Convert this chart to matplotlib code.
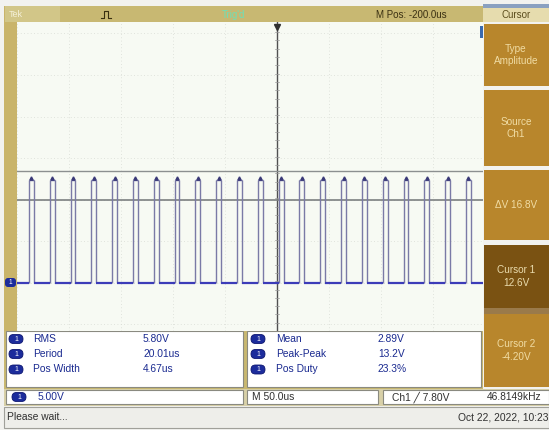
import matplotlib
matplotlib.use("Agg")
import matplotlib.pyplot as plt
from matplotlib.patches import Rectangle, FancyBboxPatch
import numpy as np

plt.rcParams['font.family'] = ['Liberation Sans Narrow', 'Liberation Sans', 'DejaVu Sans']

# ---------------- data ----------------
period_us = 20.01          # Period measurement
pos_width_us = 4.67        # Pos Width measurement
first_rise_us = -238.5     # first rising edge relative to screen centre
n_pulses = 22
low_level_v = 0.0
high_level_v = 12.4
time_per_div_us = 50.0
volts_per_div = 5.0
cursor_line_levels_v = [13.4, 9.9]

meas_left_names = ["RMS", "Period", "Pos Width"]
meas_left_values = ["5.80V", "20.01us", "4.67us"]
meas_right_names = ["Mean", "Peak-Peak", "Pos Duty"]
meas_right_values = ["2.89V", "13.2V", "23.3%"]
menu_labels = ["Type\nAmplitude", "Source\nCh1", "\u0394V 16.8V", "Cursor 1\n12.6V", "Cursor 2\n-4.20V"]
status_texts = ["5.00V", "M 50.0us", "Ch1 \u2571 7.80V", "46.8149kHz"]

W, H = 549, 430
fig = plt.figure(figsize=(W / 100, H / 100), dpi=100)
fig.patch.set_facecolor('#f2f2ef')

ui = fig.add_axes([0, 0, 1, 1], zorder=0)
ui.set_xlim(0, W)
ui.set_ylim(H, 0)
ui.axis('off')

def rect(ax, x0, y0, x1, y1, fc, ec='none', lw=0, z=1):
    ax.add_patch(Rectangle((x0, y0), x1 - x0, y1 - y0, facecolor=fc, edgecolor=ec, linewidth=lw, zorder=z))

khaki = '#c8b872'
# top bar and left border
rect(ui, 5, 6, 483, 22, khaki)
rect(ui, 4, 6, 17, 331, '#c9b46a')
rect(ui, 5, 6, 60, 22, '#d2c688')
ui.text(9, 14.5, "Tek", color='#f4f0d8', fontsize=6.5, va='center', ha='left')
ui.plot([101, 104, 104, 108, 108, 111], [18, 18, 11, 11, 18, 18], color='#3a3010', lw=0.8)
ui.text(222, 14.5, "Trig'd", color='#6ee0b8', fontsize=7, va='center', ha='left')
ui.text(376, 14.5, "M Pos: -200.0us", color='#3a3012', fontsize=7, va='center', ha='left')

# right menu
rect(ui, 483, 4, 549, 8, '#8aa0c0')
rect(ui, 483, 8, 549, 22, '#e6dcae')
ui.text(516, 15, "Cursor", color='#5a4c1c', fontsize=7, ha='center', va='center')
menu_boxes = [(24, 86), (90, 166), (170, 240), (245, 308), (314, 387)]
for i, ((y0, y1), lab) in enumerate(zip(menu_boxes, menu_labels)):
    selected = (i == 3)
    fc = '#7a5212' if selected else '#b8862c'
    rect(ui, 484, y0, 549, y1, fc, z=2)
    tc = '#eadcae' if selected else '#f0dca4'
    ui.text(516, (y0 + y1) / 2, lab, color=tc, fontsize=7.2, ha='center', va='center',
            linespacing=1.3, zorder=3)
rect(ui, 484, 308, 549, 314, '#9a7a4a', z=2)

# measurement panels
rect(ui, 4, 331, 483, 389, '#c9b870')
rect(ui, 6, 331, 243, 387, 'white', '#8a8a80', 0.8, z=2)
rect(ui, 247, 331, 481, 387, 'white', '#8a8a80', 0.8, z=2)
row_y = [339, 354, 369.5]

def badge(x, y):
    ui.add_patch(FancyBboxPatch((x, y - 4.5), 14, 9, boxstyle="round,pad=0,rounding_size=4.5",
                                facecolor='#1c2c9c', edgecolor='#0c1670', lw=0.6, zorder=4))
    ui.text(x + 7, y + 0.3, "1", color='white', fontsize=5, ha='center', va='center', zorder=5)

fs = 7.4
for y, n, v in zip(row_y, meas_left_names, meas_left_values):
    badge(9, y)
    ui.text(33, y, n, color='#1a2a90', fontsize=fs, va='center', zorder=5)
    ui.text(143, y, v, color='#1a2a90', fontsize=fs, va='center', zorder=5)
for y, n, v in zip(row_y, meas_right_names, meas_right_values):
    badge(251, y)
    ui.text(276, y, n, color='#1a2a90', fontsize=fs, va='center', zorder=5)
    ui.text(378, y, v, color='#1a2a90', fontsize=fs, va='center', zorder=5)

# status row
rect(ui, 4, 389, 549, 406, '#d8d0a8')
rect(ui, 6, 390, 243, 404, 'white', '#8a8a80', 0.8, z=2)
rect(ui, 247, 390, 378, 404, 'white', '#8a8a80', 0.8, z=2)
rect(ui, 383, 390, 549, 404, 'white', '#8a8a80', 0.8, z=2)
badge(12, 397)
ui.text(38, 397, status_texts[0], color='#1a2a90', fontsize=fs, va='center', zorder=5)
ui.text(252, 397, status_texts[1], color='#303030', fontsize=fs, va='center', zorder=5)
ui.text(392, 397, status_texts[2], color='#303030', fontsize=fs, va='center', zorder=5)
ui.text(487, 397, status_texts[3], color='#303030', fontsize=fs, va='center', zorder=5)

# bottom line
rect(ui, 4, 407, 549, 428, '#eeeeea', '#a0a09a', 0.8)
ui.text(7, 417.5, "Please wait...", color='#303030', fontsize=fs, va='center')
ui.text(548, 417.5, "Oct 22, 2022, 10:23", color='#303030', fontsize=fs, va='center', ha='right')

# ---------------- scope screen ----------------
px0, px1, py0, py1 = 17, 483, 22, 331
sc = fig.add_axes([px0 / W, 1 - py1 / H, (px1 - px0) / W, (py1 - py0) / H], zorder=1)
sc.set_facecolor('#f7faf3')
px_per_us = 52.0 / time_per_div_us
centre_px = 277
t_left = (px0 - centre_px) / px_per_us
t_right = (px1 - centre_px) / px_per_us
ground_px = 282.5
px_per_v = 8.3
v_top = (ground_px - py0) / px_per_v
v_bot = (ground_px - py1) / px_per_v
sc.set_xlim(t_left, t_right)
sc.set_ylim(v_bot, v_top)
for s in sc.spines.values():
    s.set_visible(False)
sc.set_xticks([]); sc.set_yticks([])

# faint graticule
for t in np.arange(-250, 200, time_per_div_us):
    sc.axvline(t, color='#d8dcd4', lw=0.6, ls=(0, (1, 3)), zorder=0)
grid_v = np.arange(-5, 32, volts_per_div)
for v in grid_v:
    sc.axhline(v, color='#d8dcd4', lw=0.6, ls=(0, (1, 3)), zorder=0)
# trigger position line with small ticks
sc.axvline(0, color='#505050', lw=1.0, zorder=1)
for v in np.arange(v_bot, v_top, 1.0):
    sc.plot([-1.5, 1.5], [v, v], color='#9a9a9a', lw=0.5, zorder=1)
sc.plot([0], [v_top - 0.6], marker='v', color='#303030', ms=4, clip_on=False, zorder=5)

# cursor lines
sc.axhline(cursor_line_levels_v[0], color='#8c9090', lw=1.0, zorder=2)
sc.axhline(cursor_line_levels_v[1], color='#7c8080', lw=1.2, zorder=2)

# waveform
rises = first_rise_us + period_us * np.arange(n_pulses)
falls = rises + pos_width_us
sc.vlines(rises, low_level_v, high_level_v, color='#7a7aa6', lw=1.0, zorder=3)
sc.vlines(falls, low_level_v, high_level_v, color='#7a7aa6', lw=1.0, zorder=3)
sc.hlines(np.full(n_pulses, high_level_v), rises, falls, color='#6a6aa0', lw=1.0, zorder=3)
low_starts = np.concatenate([[t_left], falls])
low_ends = np.concatenate([rises, [t_right]])
sc.hlines(np.full(len(low_starts), low_level_v), low_starts, low_ends, color='#3c3cb8', lw=1.6, zorder=3)
sc.plot((rises + falls) / 2, np.full(n_pulses, high_level_v + 0.2), ls='none', marker='^',
        color='#3a3a78', ms=2.3, zorder=4)

# overlay for markers above screen
ov = fig.add_axes([0, 0, 1, 1], zorder=3)
ov.set_xlim(0, W); ov.set_ylim(H, 0); ov.axis('off')
ov.add_patch(FancyBboxPatch((5, ground_px - 4.5), 11, 9, boxstyle="round,pad=0,rounding_size=3",
                            facecolor='#1c2c9c', edgecolor='none'))
ov.text(10, ground_px + 0.3, "1", color='white', fontsize=4.8, ha='center', va='center')
ov.add_patch(Rectangle((480, 26), 3, 12, facecolor='#3a6ab0', edgecolor='none'))

fig.savefig("out.png", dpi=100, facecolor=fig.get_facecolor())
